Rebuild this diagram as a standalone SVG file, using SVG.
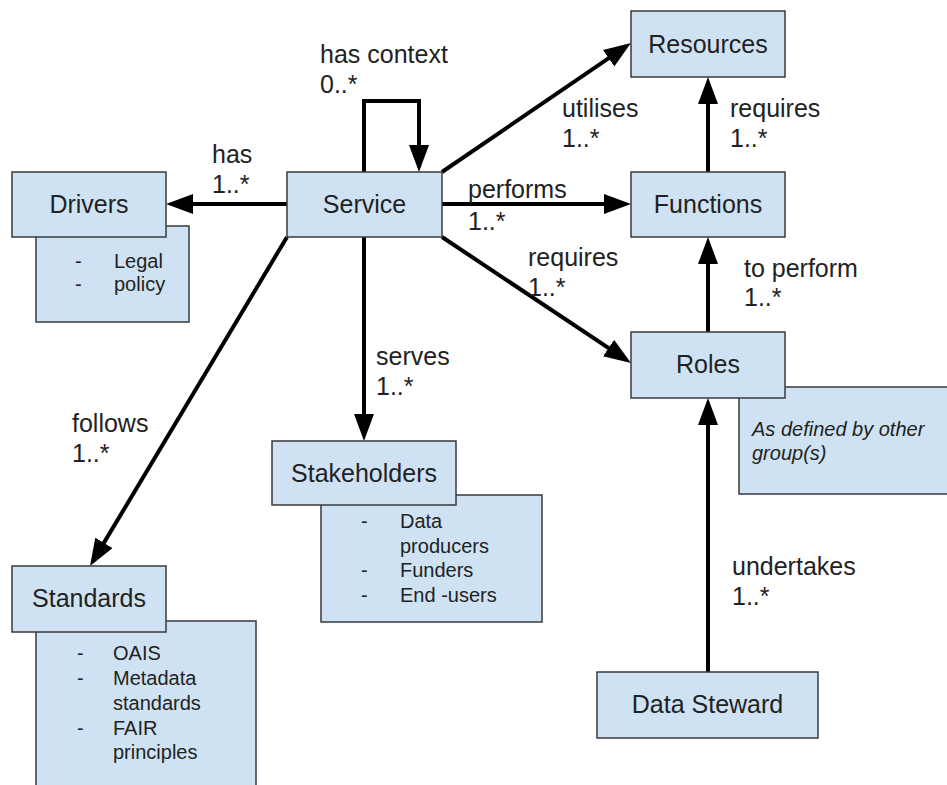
<svg xmlns="http://www.w3.org/2000/svg" width="947" height="785" viewBox="0 0 947 785">
  <defs>
    <style>
      .box { fill: #cfe2f3; stroke: #3a3a3a; stroke-width: 1.5; }
      .title { font-family: "Liberation Sans", Arial, sans-serif; font-size: 25px; fill: #222; text-anchor: middle; }
      .lbl { font-family: "Liberation Sans", Arial, sans-serif; font-size: 25px; fill: #222; }
      .note { font-family: "Liberation Sans", Arial, sans-serif; font-size: 20px; fill: #222; }
      .em { font-style: italic; }
      .edge { fill: none; stroke: #000; stroke-width: 4; marker-end: url(#head); }
    </style>
    <marker id="head" markerUnits="userSpaceOnUse" markerWidth="28" markerHeight="22" refX="21" refY="10" orient="auto">
      <path d="M0,0 L27,10 L0,20 Z" fill="#000"/>
    </marker>
  </defs>

  <rect width="947" height="785" fill="#fff"/>

  <!-- connectors -->
  <g id="connectors">
    <line class="edge" x1="287" y1="204" x2="172" y2="204"/>
    <path class="edge" d="M364,172 V101 H419 V166"/>
    <line class="edge" x1="442" y1="172" x2="626" y2="46.4"/>
    <line class="edge" x1="442" y1="204" x2="625" y2="204"/>
    <line class="edge" x1="442" y1="237" x2="626" y2="359.7"/>
    <line class="edge" x1="364" y1="237" x2="364" y2="435"/>
    <line class="edge" x1="287" y1="237" x2="93.1" y2="560.9"/>
    <line class="edge" x1="708" y1="172" x2="708" y2="83"/>
    <line class="edge" x1="708" y1="332" x2="708" y2="243"/>
    <line class="edge" x1="708" y1="672" x2="708" y2="404"/>

    <text class="lbl" x="212" y="163">has</text>
    <text class="lbl" x="212" y="193">1..*</text>
    <text class="lbl" x="320" y="63">has context</text>
    <text class="lbl" x="320" y="93">0..*</text>
    <text class="lbl" x="562" y="117">utilises</text>
    <text class="lbl" x="562" y="147">1..*</text>
    <text class="lbl" x="468" y="198">performs</text>
    <text class="lbl" x="468" y="230">1..*</text>
    <text class="lbl" x="528" y="266">requires</text>
    <text class="lbl" x="528" y="296">1..*</text>
    <text class="lbl" x="730" y="117">requires</text>
    <text class="lbl" x="730" y="147">1..*</text>
    <text class="lbl" x="744" y="277">to perform</text>
    <text class="lbl" x="744" y="306">1..*</text>
    <text class="lbl" x="376" y="365">serves</text>
    <text class="lbl" x="376" y="395">1..*</text>
    <text class="lbl" x="72" y="432">follows</text>
    <text class="lbl" x="72" y="462">1..*</text>
    <text class="lbl" x="732" y="575">undertakes</text>
    <text class="lbl" x="732" y="605">1..*</text>
  </g>

  <!-- notes (behind their nodes) -->
  <g id="drivers-note">
    <rect class="box" x="36" y="226" width="153" height="96"/>
    <text class="note" x="75" y="268">-</text>
    <text class="note" x="114" y="268">Legal</text>
    <text class="note" x="75" y="291">-</text>
    <text class="note" x="114" y="291">policy</text>
  </g>
  <g id="stakeholders-note">
    <rect class="box" x="321" y="495" width="221" height="127"/>
    <text class="note" x="361" y="528">-</text>
    <text class="note" x="400" y="528">Data</text>
    <text class="note" x="400" y="553">producers</text>
    <text class="note" x="361" y="577">-</text>
    <text class="note" x="400" y="577">Funders</text>
    <text class="note" x="361" y="602">-</text>
    <text class="note" x="400" y="602">End -users</text>
  </g>
  <g id="standards-note">
    <rect class="box" x="36" y="621" width="220" height="190"/>
    <text class="note" x="77" y="660">-</text>
    <text class="note" x="113" y="660">OAIS</text>
    <text class="note" x="77" y="685">-</text>
    <text class="note" x="113" y="685">Metadata</text>
    <text class="note" x="113" y="710">standards</text>
    <text class="note" x="77" y="735">-</text>
    <text class="note" x="113" y="735">FAIR</text>
    <text class="note" x="113" y="759">principles</text>
  </g>
  <g id="roles-note">
    <rect class="box" x="739" y="387" width="220" height="107"/>
    <text class="note em" x="752" y="436">As defined by other</text>
    <text class="note em" x="752" y="460">group(s)</text>
  </g>

  <!-- nodes -->
  <g id="drivers">
    <rect class="box" x="12" y="172" width="154" height="65"/>
    <text class="title" x="89" y="213">Drivers</text>
  </g>
  <g id="service">
    <rect class="box" x="287" y="172" width="155" height="65"/>
    <text class="title" x="364.5" y="213">Service</text>
  </g>
  <g id="resources">
    <rect class="box" x="631" y="11" width="154" height="66"/>
    <text class="title" x="708" y="53">Resources</text>
  </g>
  <g id="functions">
    <rect class="box" x="631" y="172" width="154" height="65"/>
    <text class="title" x="708" y="213">Functions</text>
  </g>
  <g id="roles">
    <rect class="box" x="631" y="332" width="154" height="66"/>
    <text class="title" x="708" y="373">Roles</text>
  </g>
  <g id="stakeholders">
    <rect class="box" x="272" y="441" width="184" height="64"/>
    <text class="title" x="364" y="482">Stakeholders</text>
  </g>
  <g id="standards">
    <rect class="box" x="12" y="566" width="154" height="66"/>
    <text class="title" x="89" y="607">Standards</text>
  </g>
  <g id="data-steward">
    <rect class="box" x="597" y="672" width="221" height="66"/>
    <text class="title" x="707.5" y="713">Data Steward</text>
  </g>
</svg>
